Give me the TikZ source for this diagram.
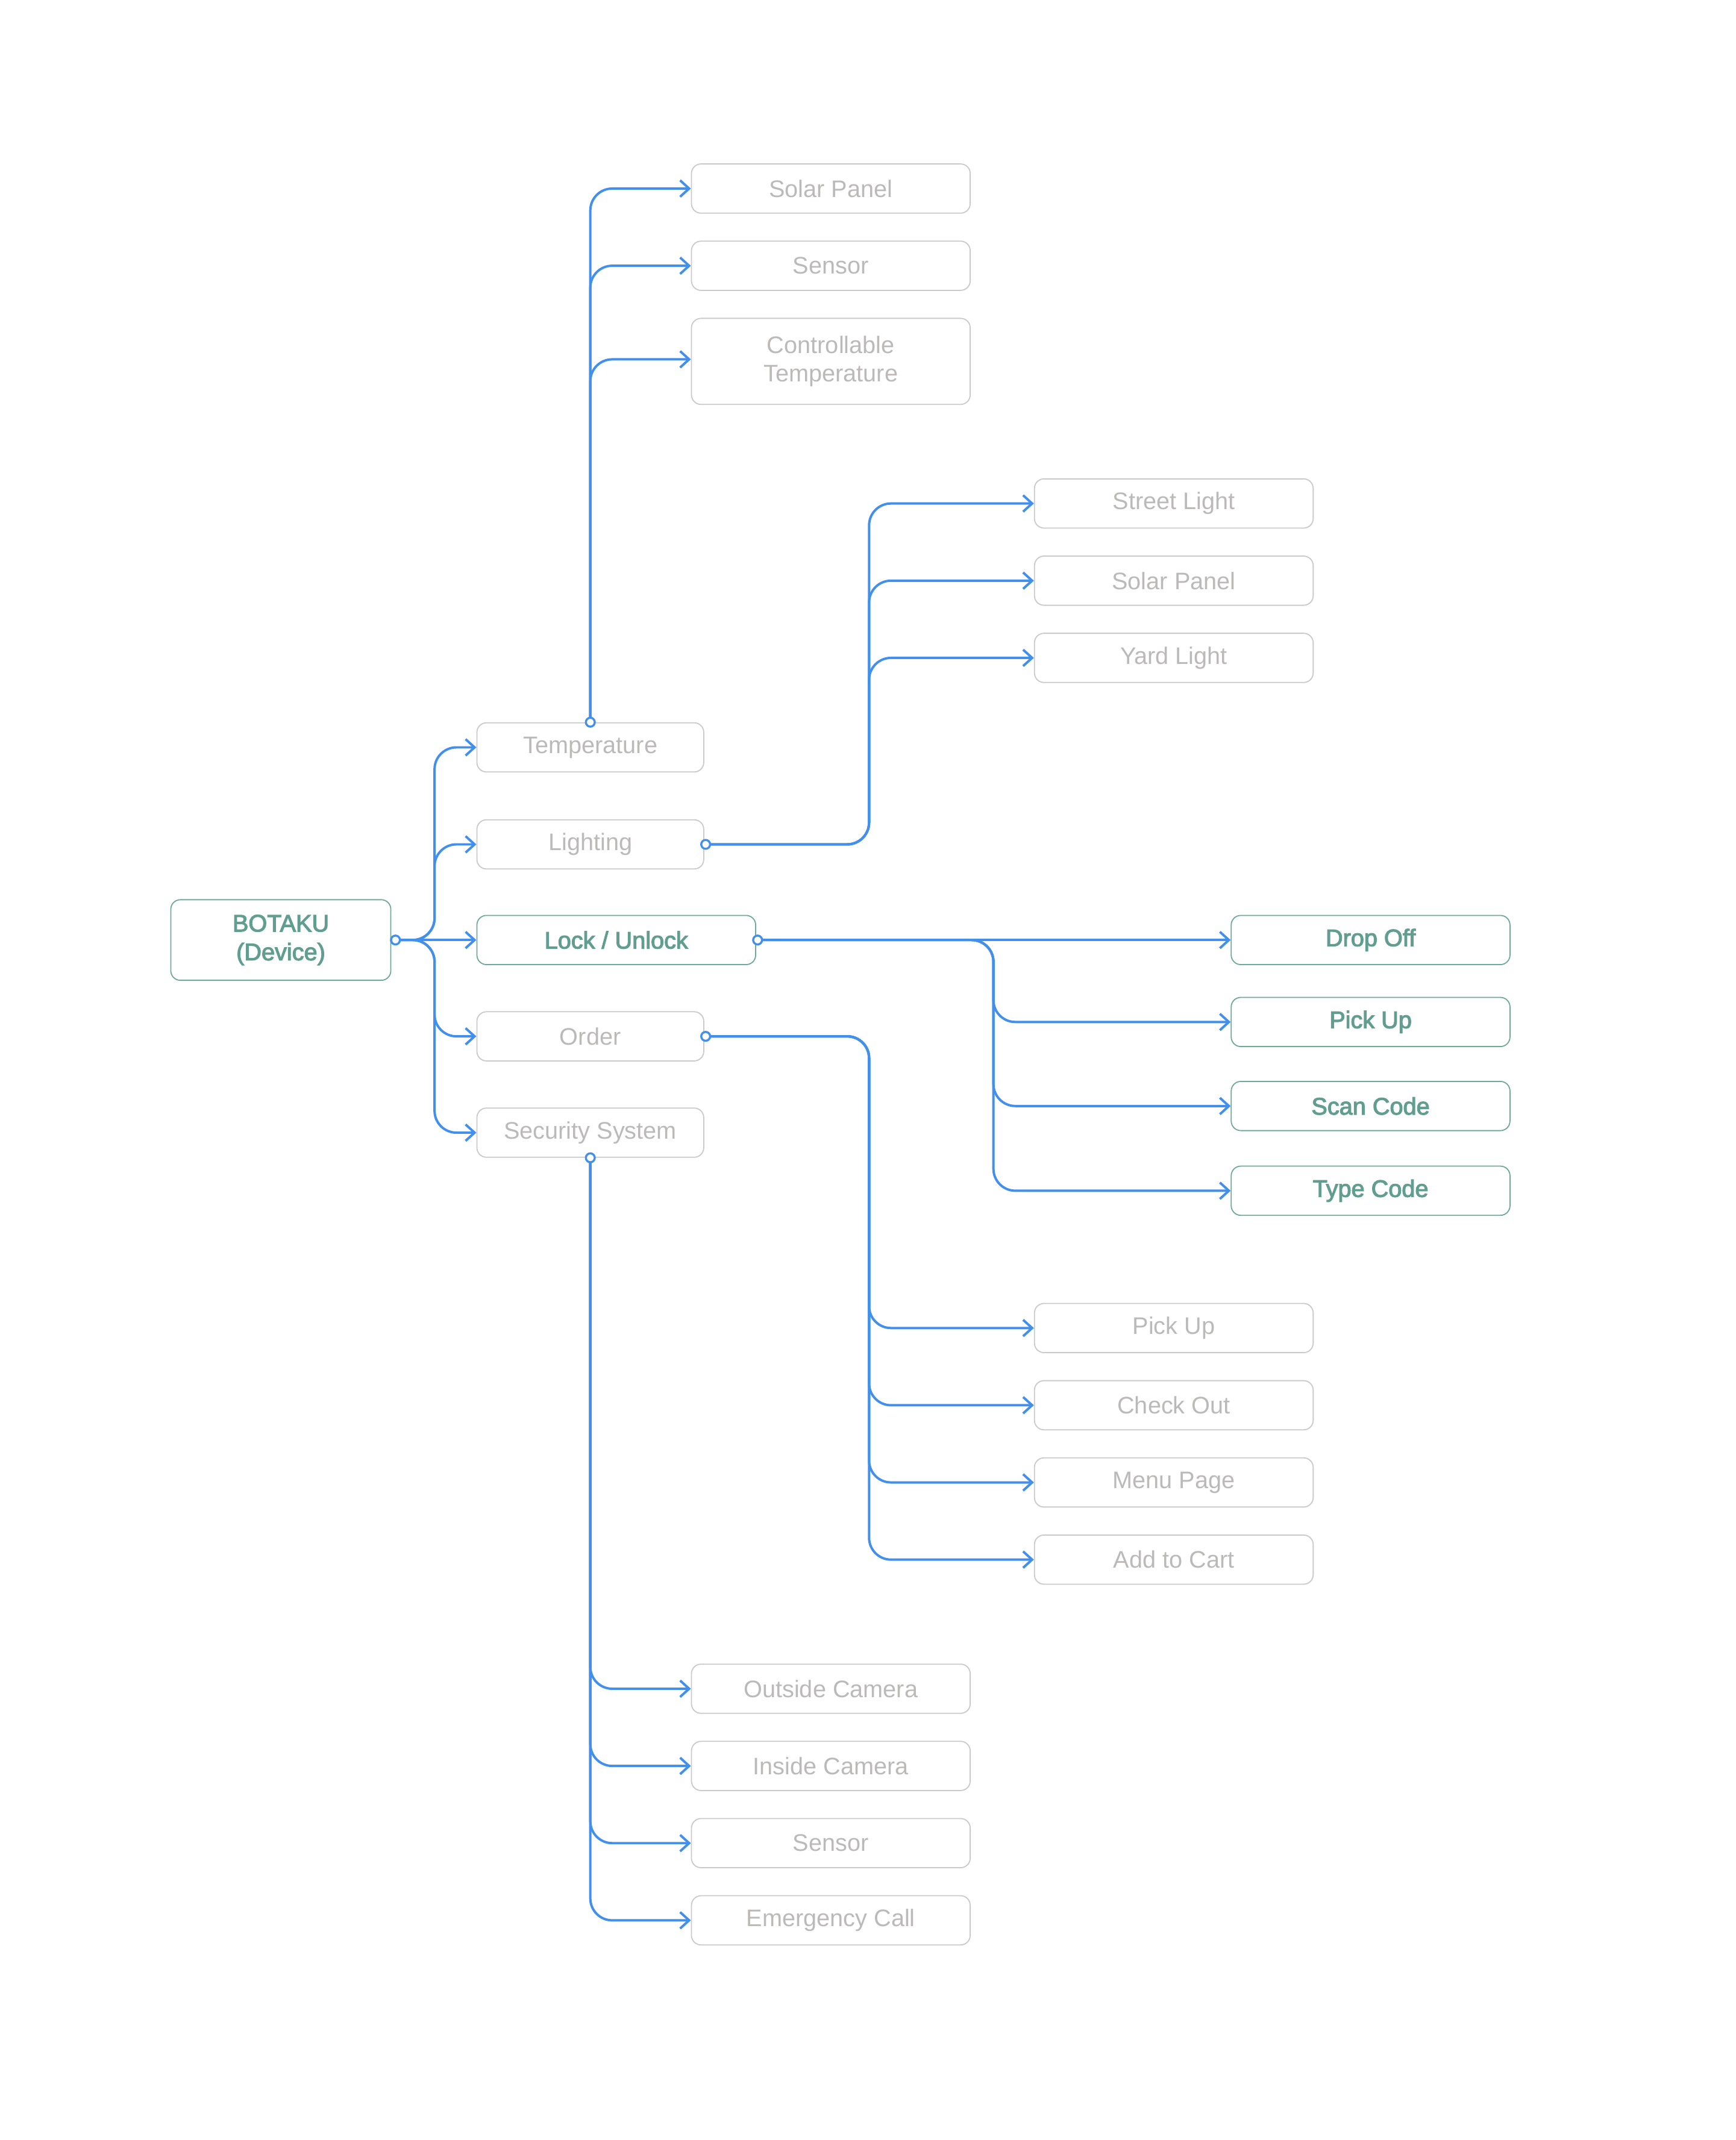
\documentclass[tikz,border=0pt]{standalone}
\usepackage{fontspec}
\setmainfont{Liberation Sans}
\newfontfamily\medfont[FakeBold=3]{Liberation Sans}
\usetikzlibrary{arrows.meta}
\definecolor{linkblue}{HTML}{4290EC}
\definecolor{boxgrey}{HTML}{CACACA}
\definecolor{txtgrey}{HTML}{BCB9B9}
\definecolor{boxgreen}{HTML}{70A899}
\definecolor{txtgreen}{HTML}{629E8F}
\tikzset{
  box/.style={draw=boxgrey, line width=0.8pt, rounded corners=7pt, minimum height=36pt, minimum width=204pt,
    text=txtgrey, font=\fontsize{17.5}{21}\selectfont, align=center, inner sep=0pt},
  sbox/.style={box, minimum width=166pt},
  gbox/.style={box, draw=boxgreen, text=txtgreen, font=\fontsize{17.5}{21}\medfont},
  conn/.style={draw=linkblue, line width=1.75pt, rounded corners=16pt, -{Straight Barb[length=6.6pt,width=12pt]}},
  dotnode/.style={circle, draw=linkblue, fill=white, line width=1.5pt, inner sep=0pt, minimum size=6.5pt}
}
\begin{document}
\begin{tikzpicture}[x=1pt,y=-1pt]
\useasboundingbox[fill=white] (0,0) rectangle (1270,1566.3);
% level 0 and 1
\node[gbox, minimum width=161pt, minimum height=59pt] (bot) at (205.5,688) {BOTAKU\\(Device)};
\node[sbox] (temp) at (432,547) {Temperature};
\node[sbox] (light) at (432,618) {Lighting};
\node[gbox] (lock) at (451,688) {Lock / Unlock};
\node[sbox] (order) at (432,758.5) {Order};
\node[sbox] (sec) at (432,829) {Security System};
% temperature children
\node[box] (sp1) at (608,138) {Solar Panel};
\node[box] (sen1) at (608,194.5) {Sensor};
\node[box, minimum height=63pt] (ct) at (608,264.5) {Controllable\\Temperature};
% lighting children
\node[box] (sl) at (859,368.5) {Street Light};
\node[box] (sp2) at (859,425) {Solar Panel};
\node[box] (yl) at (859,481.5) {Yard Light};
% lock children
\node[gbox] (drop) at (1003,688) {Drop Off};
\node[gbox] (pick1) at (1003,748) {Pick Up};
\node[gbox] (scan) at (1003,809.5) {Scan Code};
\node[gbox] (type) at (1003,871.5) {Type Code};
% order children
\node[box] (pick2) at (859,972) {Pick Up};
\node[box] (check) at (859,1028.5) {Check Out};
\node[box] (menu) at (859,1085) {Menu Page};
\node[box] (cart) at (859,1141.5) {Add to Cart};
% security children
\node[box] (oc) at (608,1236) {Outside Camera};
\node[box] (ic) at (608,1292.5) {Inside Camera};
\node[box] (sen2) at (608,1349) {Sensor};
\node[box] (ec) at (608,1405.5) {Emergency Call};
% junctions
\coordinate (jb) at (318,688);
\coordinate (jl) at (636,618);
\coordinate (jk) at (727,688);
\coordinate (jo) at (636,758.5);
% connectors
\draw[conn] (bot.east) -- (jb) |- (temp.west);
\draw[conn] (bot.east) -- (jb) |- (light.west);
\draw[conn] (bot.east) -- (lock.west);
\draw[conn] (bot.east) -- (jb) |- (order.west);
\draw[conn] (bot.east) -- (jb) |- (sec.west);
\draw[conn] (temp.north) |- (sp1.west);
\draw[conn] (temp.north) |- (sen1.west);
\draw[conn] (temp.north) |- ([yshift=1.5pt]ct.west);
\draw[conn] (light.east) -- (jl) |- (sl.west);
\draw[conn] (light.east) -- (jl) |- (sp2.west);
\draw[conn] (light.east) -- (jl) |- (yl.west);
\draw[conn] (lock.east) -- (drop.west);
\draw[conn] (lock.east) -- (jk) |- (pick1.west);
\draw[conn] (lock.east) -- (jk) |- (scan.west);
\draw[conn] (lock.east) -- (jk) |- (type.west);
\draw[conn] (order.east) -- (jo) |- (pick2.west);
\draw[conn] (order.east) -- (jo) |- (check.west);
\draw[conn] (order.east) -- (jo) |- (menu.west);
\draw[conn] (order.east) -- (jo) |- (cart.west);
\draw[conn] (sec.south) |- (oc.west);
\draw[conn] (sec.south) |- (ic.west);
\draw[conn] (sec.south) |- (sen2.west);
\draw[conn] (sec.south) |- (ec.west);
% port dots
\node[dotnode] (dbot) at ([xshift=3pt]bot.east) {};
\node[dotnode] (dtemp) at (temp.north) {};
\node[dotnode] (dlight) at ([xshift=1pt]light.east) {};
\node[dotnode] (dlock) at ([xshift=1pt]lock.east) {};
\node[dotnode] (dorder) at ([xshift=1pt]order.east) {};
\node[dotnode] (dsec) at (sec.south) {};
\end{tikzpicture}
\end{document}
